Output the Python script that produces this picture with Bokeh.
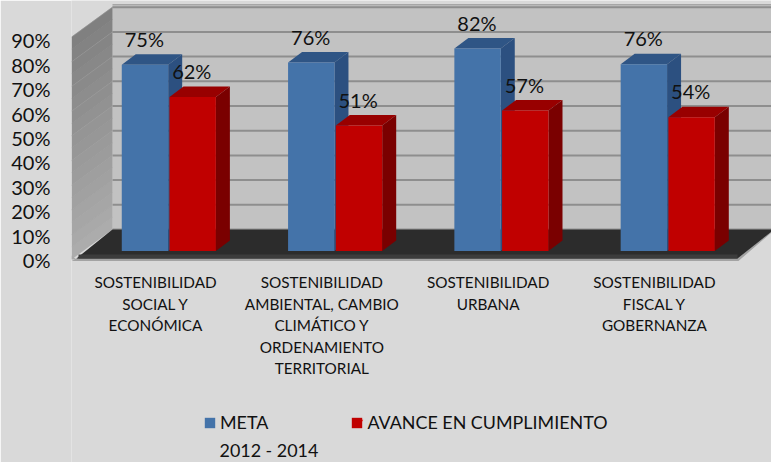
from bokeh.plotting import figure
from bokeh.models import Range1d, LinearAxis, FixedTicker, PrintfTickFormatter, Legend, LegendItem
from bokeh.core.properties import value
from bokeh.embed import file_html
from bokeh.resources import INLINE
import numpy as np

categories = ["SOSTENIBILIDAD\nSOCIAL Y\nECONÓMICA",
              "SOSTENIBILIDAD\nAMBIENTAL, CAMBIO\nCLIMÁTICO Y\nORDENAMIENTO\nTERRITORIAL",
              "SOSTENIBILIDAD\nURBANA",
              "SOSTENIBILIDAD\nFISCAL Y\nGOBERNANZA"]
meta = [75.4, 76.3, 82.0, 75.6]
avance = [62.3, 50.8, 56.9, 54.2]
y_ticks = [0, 10, 20, 30, 40, 50, 60, 70, 80, 90]
FONT = "Lato"

W, H = 771, 462
FL, BASE = 71, 250.5          # frame left, baseline pixel
PX_X, PX_Y = 166.3, 2.47      # pixels per data unit
X0 = 168.5                    # pixel of first group's centre

p = figure(width=W, height=H, output_backend="svg", toolbar_location=None,
           x_range=Range1d((FL - X0) / PX_X, (W - X0) / PX_X),
           y_range=Range1d(-(H - BASE) / PX_Y, BASE / PX_Y),
           x_axis_location=None, y_axis_location=None,
           min_border_left=FL, min_border_right=0, min_border_top=0, min_border_bottom=0)
p.styles = {"position": "absolute", "left": "0px", "top": "0px"}
p.grid.visible = False
p.outline_line_color = None
p.background_fill_color = "#d9d9d9"
p.border_fill_color = "#d9d9d9"

def xd(px):
    return (px - X0) / PX_X
def yd(px):
    return (BASE - px) / PX_Y

# axis with its own range (labels sit on the front plane)
p.extra_y_ranges["front"] = Range1d(-(H - 259.5) / 2.44, 259.5 / 2.44)
ax = LinearAxis(y_range_name="front", ticker=FixedTicker(ticks=y_ticks),
                formatter=PrintfTickFormatter(format="%d%%"))
ax.major_tick_line_color = None
ax.minor_tick_line_color = None
ax.major_tick_in = 0
ax.major_tick_out = 0
ax.axis_line_color = None
ax.major_label_standoff = 21
ax.major_label_text_font = FONT
ax.major_label_text_font_size = "20px"
ax.major_label_text_color = "#111111"
p.add_layout(ax, "left")

# chart furniture
back0, front0 = yd(229), yd(259)
p.quad(left=xd(112), right=xd(771), bottom=back0, top=yd(5), fill_color="#c2c2c2", line_color=None)
p.quad(left=xd(112), right=xd(771), bottom=yd(5), top=yd(3.5), fill_color="#a6a6a6", line_color=None)
for v in y_ticks:
    p.line([xd(112), xd(771)], [back0 + v, back0 + v], line_color="#8e8e8e", line_width=2)

# left wall: vertical shade bands
for b in np.arange(0, 90, 5):
    t = b / 90
    g = int(172 - 46 * t)
    col = f"#{g:02x}{g:02x}{g:02x}"
    p.patch([xd(71), xd(112), xd(112), xd(71)],
            [front0 + b, back0 + b, back0 + b + 5.2, front0 + b + 5.2],
            fill_color=col, line_color=None)
for v in y_ticks[1:]:
    p.line([xd(71), xd(112)], [front0 + v, back0 + v], line_color="#a4a4a4", line_width=1, line_alpha=0.4)
p.patch([xd(71), xd(76), xd(71)], [yd(259), yd(259), yd(255)], fill_color="#a8a8a8", line_color=None)

# floor
p.patch([xd(71), xd(738), xd(771), xd(771), xd(112), xd(76)],
        [yd(260.5), yd(260.5), yd(232), yd(229), yd(229), yd(258)],
        fill_color="#a3a3a3", line_color=None)
p.patch([xd(76), xd(112), xd(771), xd(771), xd(737), xd(76)],
        [yd(258), yd(229), yd(229), yd(231), yd(258), yd(258)],
        fill_color="#2c2c2c", line_color=None)
p.quad(left=xd(78), right=xd(737), bottom=yd(258), top=yd(254), fill_color="#3c3c3c", line_color=None)

# bars
W_BAR = 0.279
DX, DY = 14 / PX_X, 10.5 / PX_Y
def bars(vals, offs, front, top, side):
    x0 = np.arange(len(vals)) + offs
    x1 = x0 + W_BAR
    v = np.array(vals)
    p.patches([[a, a + DX, b + DX, b] for a, b in zip(x0, x1)],
              [[t, t + DY, t + DY, t] for t in v],
              fill_color=top, line_color=None)
    p.patches([[b, b + DX, b + DX, b] for b in x1],
              [[t, t + DY, DY, 0] for t in v],
              fill_color=side, line_color=None)
    return p.quad(left=x0, right=x1, bottom=0, top=v, fill_color=front, line_color=None)

# blue first, then red in front of blue's side
r_meta = bars(meta, -0.284, "#4473a9", "#2f5585", "#2c5080")
r_avance = bars(avance, 0.003, "#c00000", "#980000", "#7a0000")

# data labels
lab_x = list(np.arange(4) - 0.148) + list(np.arange(4) + 0.137)
lab_y = [v + 10.5 for v in meta] + [v + 10.5 for v in avance]
lab_t = [f"{round(v)}%" for v in meta] + [f"{round(v)}%" for v in avance]
p.text(lab_x, lab_y, text=lab_t, text_font=value(FONT), text_font_size="20px",
       text_align="center", text_baseline="middle", text_color="#111111")

# category labels
p.text(list(np.arange(4) - 0.081), [yd(272.5)] * 4, text=categories, text_font=value(FONT),
       text_font_size="15.3px", text_align="center", text_baseline="top",
       text_color="#111111", text_line_height=1.2)

# legend
legend = Legend(items=[LegendItem(label="META", renderers=[r_meta]),
                       LegendItem(label="AVANCE EN CUMPLIMIENTO", renderers=[r_avance])],
                orientation="horizontal", location=(132, 29), glyph_width=13, glyph_height=13,
                label_standoff=4, spacing=82, padding=0, margin=0, border_line_color=None,
                background_fill_alpha=0, label_text_font=FONT, label_text_font_size="17.9px",
                label_text_color="#111111", level="guide")
p.add_layout(legend)
p.text([xd(219)], [yd(449)], text=["2012 - 2014"], text_font=value(FONT), text_font_size="17.9px",
       text_align="left", text_baseline="middle", text_color="#111111")

# lighter notch in the legend swatches
p.patches([[xd(206), xd(213.3), xd(209.6)], [xd(355.5), xd(362.8), xd(359.1)]],
          [[yd(419.3), yd(419.3), yd(425)]] * 2,
          fill_color=["#7db0e4", "#f02a2a"], line_color=None, level="annotation")

open("out.html", "w").write(file_html(p, INLINE))
